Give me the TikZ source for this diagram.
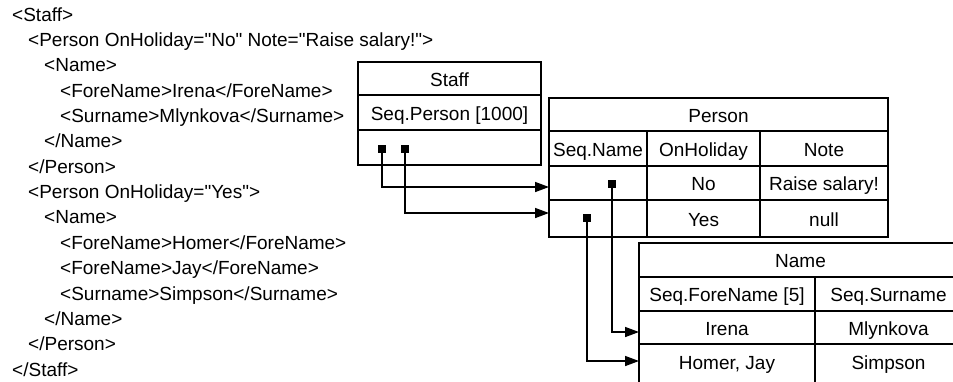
\documentclass[tikz,border=0pt]{standalone}
\usepackage{fontspec}
\setmainfont{Liberation Sans}[Ligatures=TeXOff]
\usetikzlibrary{arrows.meta}

\tikzset{
  cell/.style 2 args={draw, line width=1.5pt, anchor=north west, inner sep=0pt, outer sep=0pt,
    minimum width=#1pt, minimum height=#2pt, text height=15.6pt, text depth=0pt},
  xml/.style={anchor=base west, inner sep=0pt},
  ptr/.style={fill=black, inner sep=0pt, minimum size=8pt},
  link/.style={line width=1.5pt, -{Triangle[length=14pt,width=10pt]}}
}

\begin{document}
\begin{tikzpicture}[x=1pt,y=-1pt,font=\fontsize{19}{23}\selectfont]
\useasboundingbox (0,0) rectangle (953,381);
\clip (0,0) rectangle (953,381);

% the xml document
\node[xml] (x0) at (12,21) {<Staff>};
\node[xml] (x1) at (28,46.4) {<Person OnHoliday="No" Note="Raise salary!">};
\node[xml] (x2) at (44,71.7) {<Name>};
\node[xml] (x3) at (60,97.1) {<ForeName>Irena</ForeName>};
\node[xml] (x4) at (60,122.4) {<Surname>Mlynkova</Surname>};
\node[xml] (x5) at (44,147.8) {</Name>};
\node[xml] (x6) at (28,173.2) {</Person>};
\node[xml] (x7) at (28,198.5) {<Person OnHoliday="Yes">};
\node[xml] (x8) at (44,223.9) {<Name>};
\node[xml] (x9) at (60,249.2) {<ForeName>Homer</ForeName>};
\node[xml] (x10) at (60,274.6) {<ForeName>Jay</ForeName>};
\node[xml] (x11) at (60,300) {<Surname>Simpson</Surname>};
\node[xml] (x12) at (44,325.3) {</Name>};
\node[xml] (x13) at (28,350.7) {</Person>};
\node[xml] (x14) at (12,376) {</Staff>};

% Staff table
\node[cell={183}{33}] (staffName) at (358,62) {Staff};
\node[cell={183}{35}] (staffSeq) at (358,95) {Seq.Person [1000]};
\node[cell={183}{35}] (staffPtr) at (358,130) {};

% Person table
\node[cell={339}{33}] (perName) at (549,98) {Person};
\node[cell={98}{35}] (perSeq) at (549,131) {Seq.Name};
\node[cell={113}{35}] (perHol) at (647,131) {OnHoliday};
\node[cell={128}{35}] (perNote) at (760,131) {Note};
\node[cell={98}{34}] (perSeqA) at (549,166) {};
\node[cell={113}{34}] (perHolA) at (647,166) {No};
\node[cell={128}{34}] (perNoteA) at (760,166) {Raise salary!};
\node[cell={98}{37}] (perSeqB) at (549,200) {};
\node[cell={113}{37}] (perHolB) at (647,200) {Yes};
\node[cell={128}{37}] (perNoteB) at (760,200) {null};

% Name table (runs off the right and bottom)
\node[cell={323}{34}] (nameName) at (639,243) {Name};
\node[cell={176}{34}] (nameFore) at (639,277) {Seq.ForeName [5]};
\node[cell={147}{34}] (nameSur) at (815,277) {Seq.Surname};
\node[cell={176}{33}] (nameForeA) at (639,311) {Irena};
\node[cell={147}{33}] (nameSurA) at (815,311) {Mlynkova};
\node[cell={176}{42}, text height=9pt] (nameForeB) at (639,344) {Homer, Jay};
\node[cell={147}{42}, text height=9pt] (nameSurB) at (815,344) {Simpson};

% sequence pointers
\node[ptr] (sA) at (382,149) {};
\node[ptr] (sB) at (405,149) {};
\node[ptr] (pA) at (612,184) {};
\node[ptr] (pB) at (587,218) {};

\draw[link] (sA.south) |- ([yshift=-4pt]perSeqA.west);
\draw[link] (sB.south) |- ([yshift=5.5pt]perSeqB.west);
\draw[link] (pA.south) |- ([yshift=-4.5pt]nameForeA.west);
\draw[link] (pB.south) |- ([yshift=4pt]nameForeB.west);
\end{tikzpicture}
\end{document}
